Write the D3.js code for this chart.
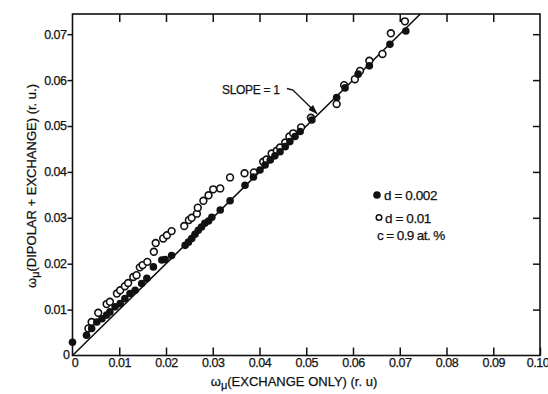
<!DOCTYPE html>
<html>
<head>
<meta charset="utf-8">
<script src="https://cdn.jsdelivr.net/npm/d3@7"></script>
<style>
  html, body { margin: 0; padding: 0; background: #fff; }
  svg { display: block; font-family: "Liberation Sans", Arial, sans-serif; }
  text { fill: #111; stroke: #111; stroke-width: 0.25px; }
</style>
</head>
<body>
<svg id="chart" width="548" height="394"></svg>
<script>
// Muon precession frequency: dipolar + exchange vs. exchange only (reduced units)
const xTickValues = [0, 0.01, 0.02, 0.03, 0.04, 0.05, 0.06, 0.07, 0.08, 0.09, 0.10];
const xTickLabels = ["0", "0.01", "0.02", "0.03", "0.04", "0.05", "0.06", "0.07", "0.08", "0.09", "0.10"];
const yTickValues = [0, 0.01, 0.02, 0.03, 0.04, 0.05, 0.06, 0.07];
const yTickLabels = ["0", "0.01", "0.02", "0.03", "0.04", "0.05", "0.06", "0.07"];

// d = 0.002 (filled)
const filledX = [0.0000, 0.0030, 0.0041, 0.0052, 0.0063, 0.0073, 0.0080, 0.0091, 0.0102, 0.0112,
  0.0123, 0.0134, 0.0148, 0.0159, 0.0173, 0.0191, 0.0198, 0.0212, 0.0241, 0.0248,
  0.0255, 0.0262, 0.0269, 0.0276, 0.0283, 0.0291, 0.0298, 0.0316, 0.0337, 0.0369,
  0.0387, 0.0401, 0.0412, 0.0423, 0.0433, 0.0444, 0.0455, 0.0465, 0.0476, 0.0487,
  0.0512, 0.0565, 0.0583, 0.0611, 0.0635, 0.0679, 0.0713];
const filledY = [0.0029, 0.0044, 0.0059, 0.0073, 0.0080, 0.0088, 0.0095, 0.0106, 0.0113, 0.0124,
  0.0135, 0.0142, 0.0157, 0.0168, 0.0193, 0.0208, 0.0209, 0.0218, 0.0240, 0.0247,
  0.0255, 0.0264, 0.0273, 0.0280, 0.0288, 0.0293, 0.0301, 0.0317, 0.0337, 0.0371,
  0.0389, 0.0404, 0.0415, 0.0426, 0.0435, 0.0444, 0.0455, 0.0466, 0.0477, 0.0488,
  0.0513, 0.0562, 0.0583, 0.0613, 0.0631, 0.0678, 0.0707];

// d = 0.01 (open)
const openX = [0.0034, 0.0041, 0.0055, 0.0073, 0.0080, 0.0095, 0.0102, 0.0112, 0.0119, 0.0130,
  0.0137, 0.0144, 0.0150, 0.0160, 0.0174, 0.0178, 0.0194, 0.0202, 0.0212, 0.0239,
  0.0249, 0.0255, 0.0266, 0.0268, 0.0280, 0.0291, 0.0301, 0.0316, 0.0337, 0.0368,
  0.0388, 0.0408, 0.0415, 0.0426, 0.0437, 0.0444, 0.0455, 0.0464, 0.0472, 0.0489,
  0.0510, 0.0565, 0.0581, 0.0604, 0.0615, 0.0635, 0.0663, 0.0681, 0.0711];
const openY = [0.0059, 0.0073, 0.0093, 0.0112, 0.0117, 0.0135, 0.0142, 0.0151, 0.0158, 0.0171,
  0.0175, 0.0192, 0.0197, 0.0204, 0.0226, 0.0245, 0.0255, 0.0262, 0.0271, 0.0282,
  0.0295, 0.0300, 0.0309, 0.0322, 0.0337, 0.0349, 0.0362, 0.0364, 0.0388, 0.0397,
  0.0399, 0.0422, 0.0427, 0.0440, 0.0446, 0.0453, 0.0464, 0.0477, 0.0484, 0.0497,
  0.0518, 0.0548, 0.0589, 0.0602, 0.0620, 0.0642, 0.0657, 0.0702, 0.0728];

const svg = d3.select("#chart");
const plotLeft = 72.5, plotRight = 540, plotTop = 14, plotBottom = 355.5;

const x = d3.scaleLinear().domain([0, 0.10]).range([plotLeft, plotRight]);
const y = d3.scaleLinear().domain([0, 0.0744]).range([plotBottom, plotTop]);

const ink = "#111";

// Frame
svg.append("rect")
  .attr("x", plotLeft).attr("y", plotTop)
  .attr("width", plotRight - plotLeft).attr("height", plotBottom - plotTop)
  .attr("fill", "none").attr("stroke", ink).attr("stroke-width", 1.6);

// Bottom axis: inward ticks with labels
const gx = svg.append("g").attr("transform", `translate(0,${plotBottom})`)
  .call(d3.axisBottom(x).tickValues(xTickValues)
    .tickFormat((d, i) => xTickLabels[i]).tickSizeInner(-8).tickSizeOuter(0).tickPadding(3));
// Top axis: inward ticks only
const gt = svg.append("g").attr("transform", `translate(0,${plotTop})`)
  .call(d3.axisTop(x).tickValues(xTickValues.slice(1, -1))
    .tickFormat("").tickSizeInner(-8).tickSizeOuter(0));
// Left axis: outward ticks with labels
const gy = svg.append("g").attr("transform", `translate(${plotLeft},0)`)
  .call(d3.axisLeft(y).tickValues(yTickValues)
    .tickFormat((d, i) => yTickLabels[i]).tickSizeInner(5).tickSizeOuter(0).tickPadding(1));
// Right axis: inward ticks only
const gr = svg.append("g").attr("transform", `translate(${plotRight},0)`)
  .call(d3.axisRight(y).tickValues(yTickValues.slice(1))
    .tickFormat("").tickSizeInner(-7).tickSizeOuter(0));

[gx, gt, gy, gr].forEach(g => {
  g.select(".domain").remove();
  g.selectAll(".tick line").attr("stroke", ink).attr("stroke-width", 1.5);
  g.selectAll(".tick text").attr("fill", ink).attr("font-size", 12.5)
    .attr("font-family", "'Liberation Sans', Arial, sans-serif")
    .style("letter-spacing", "-0.5px");
});
gy.selectAll(".tick").filter(d => d === 0).select("line").remove();
gy.selectAll(".tick").filter(d => d === 0).select("text").attr("dy", "0.2em").attr("x", -3);
gx.selectAll(".tick").filter(d => d === 0).select("line").remove();
gx.selectAll(".tick").filter(d => d === 0).select("text").attr("dx", "0.15em");
gx.selectAll(".tick").filter(d => d === 0.10).select("text").attr("dx", "-0.2em");

// Slope = 1 reference line
const lineEnd = y.domain()[1];
svg.append("line")
  .attr("x1", x(0)).attr("y1", y(0))
  .attr("x2", x(lineEnd)).attr("y2", y(lineEnd))
  .attr("stroke", ink).attr("stroke-width", 1.6);

// Data markers
const filled = filledX.map((v, i) => [v, filledY[i]]);
const open = openX.map((v, i) => [v, openY[i]]);

svg.append("g").selectAll("circle").data(open).join("circle")
  .attr("cx", d => x(d[0])).attr("cy", d => y(d[1])).attr("r", 3.4)
  .attr("fill", "#fff").attr("stroke", ink).attr("stroke-width", 1.6);

svg.append("g").selectAll("circle").data(filled).join("circle")
  .attr("cx", d => x(d[0])).attr("cy", d => y(d[1])).attr("r", 3.8)
  .attr("fill", ink);

// Slope annotation with arrow
svg.append("defs").append("marker")
  .attr("id", "head").attr("viewBox", "0 0 10 10")
  .attr("refX", 9).attr("refY", 5)
  .attr("markerWidth", 7).attr("markerHeight", 7)
  .attr("orient", "auto")
  .append("path").attr("d", "M0,1.5 L10,5 L0,8.5 Z").attr("fill", ink);

const tipX = x(0.0525), tipY = y(0.0525);
svg.append("path")
  .attr("d", `M${tipX - 31},${tipY - 26} L${tipX - 25},${tipY - 24.5} L${tipX - 1},${tipY - 1}`)
  .attr("fill", "none").attr("stroke", ink).attr("stroke-width", 1.4)
  .attr("marker-end", "url(#head)");

svg.append("text")
  .attr("x", 222).attr("y", 93.5)
  .attr("font-size", 12).style("letter-spacing", "-0.3px")
  .text("SLOPE = 1");

// Legend
svg.append("circle").attr("cx", 377).attr("cy", 195).attr("r", 3.8).attr("fill", ink);
svg.append("text").attr("x", 384).attr("y", 200).attr("font-size", 13.5)
  .style("letter-spacing", "-0.4px").text("d = 0.002");
svg.append("circle").attr("cx", 379).attr("cy", 217.5).attr("r", 2.8)
  .attr("fill", "#fff").attr("stroke", ink).attr("stroke-width", 1.5);
svg.append("text").attr("x", 385).attr("y", 223).attr("font-size", 13.5)
  .style("letter-spacing", "-0.4px").text("d = 0.01");
svg.append("text").attr("x", 377).attr("y", 240).attr("font-size", 13.5)
  .style("letter-spacing", "-0.6px").text("c = 0.9 at. %");

// Axis titles
const xt = svg.append("text").attr("x", 294).attr("y", 386)
  .attr("text-anchor", "middle").attr("font-size", 13);
xt.append("tspan").text("ω");
xt.append("tspan").attr("dy", 3).attr("font-size", 11).text("μ");
xt.append("tspan").attr("dy", -3).text("(EXCHANGE ONLY) (r. u)");

const yt = svg.append("text")
  .attr("transform", "translate(36,186) rotate(-90)")
  .attr("text-anchor", "middle").attr("font-size", 13);
yt.append("tspan").text("ω");
yt.append("tspan").attr("dy", 3).attr("font-size", 11).text("μ");
yt.append("tspan").attr("dy", -3).text("(DIPOLAR + EXCHANGE) (r. u.)");
</script>
</body>
</html>
